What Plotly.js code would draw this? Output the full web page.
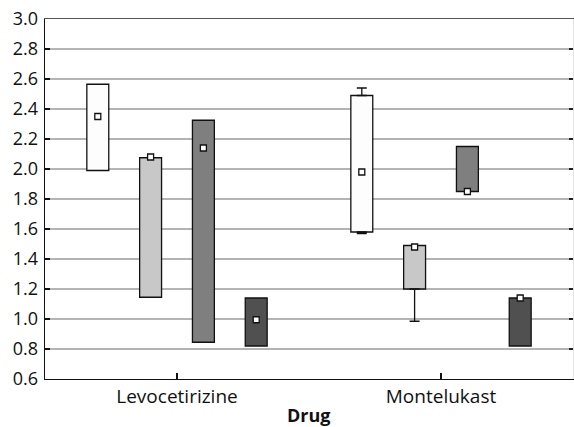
<!DOCTYPE html>
<html>
<head>
<meta charset="utf-8">
<script src="https://cdn.plot.ly/plotly-3.0.1.min.js"></script>
<style>html,body{margin:0;padding:0;background:#fff;}#chart{width:574px;height:427px;}</style>
</head>
<body>
<div id="chart"></div>
<script>
// Categories
const drugs = ['Levocetirizine', 'Montelukast'];
const drugIndex = [0, 1];
const xTitle = 'Drug';

// Four series per drug (lower quartile, upper quartile, median, whisker ends)
const s1_q1 = [1.99, 1.58];
const s1_q3 = [2.565, 2.49];
const s1_med = [2.35, 1.98];
const s1_low = [null, 1.57];
const s1_up = [null, 2.54];

const s2_q1 = [1.145, 1.20];
const s2_q3 = [2.075, 1.49];
const s2_med = [2.08, 1.48];
const s2_low = [null, 0.985];
const s2_up = [null, null];

const s3_q1 = [0.845, 1.85];
const s3_q3 = [2.325, 2.15];
const s3_med = [2.14, 1.85];
const s3_low = [null, null];
const s3_up = [null, null];

const s4_q1 = [0.82, 0.82];
const s4_q3 = [1.14, 1.14];
const s4_med = [0.995, 1.14];
const s4_low = [null, null];
const s4_up = [null, null];

const yTicks = [0.6, 0.8, 1.0, 1.2, 1.4, 1.6, 1.8, 2.0, 2.2, 2.4, 2.6, 2.8, 3.0];

const series = [
  {q1: s1_q1, q3: s1_q3, med: s1_med, low: s1_low, up: s1_up, color: '#fdfdfd', off: -0.3},
  {q1: s2_q1, q3: s2_q3, med: s2_med, low: s2_low, up: s2_up, color: '#c8c8c8', off: -0.1},
  {q1: s3_q1, q3: s3_q3, med: s3_med, low: s3_low, up: s3_up, color: '#7f7f7f', off: 0.1},
  {q1: s4_q1, q3: s4_q3, med: s4_med, low: s4_low, up: s4_up, color: '#505050', off: 0.3}
];
const boxW = 0.083;

const traces = [];
series.forEach(s => {
  const xs = drugIndex.map(i => i + s.off);
  traces.push({
    type: 'bar', x: drugIndex, base: s.q1,
    y: s.q3.map((v, i) => v - s.q1[i]),
    width: boxW, offset: s.off - boxW / 2,
    marker: {color: s.color, line: {color: '#111', width: 1.3}},
    hoverinfo: 'skip', showlegend: false
  });
  // upper whiskers
  traces.push({
    type: 'scatter', mode: 'markers', x: xs,
    y: s.up.map((u, i) => u == null ? null : s.q3[i]),
    marker: {size: 1, opacity: 0},
    error_y: {type: 'data', symmetric: false,
      array: s.up.map((u, i) => u == null ? 0 : u - s.q3[i]),
      arrayminus: s.up.map(() => 0), color: '#111', thickness: 1.3, width: 5},
    hoverinfo: 'skip', showlegend: false
  });
  // lower whiskers
  traces.push({
    type: 'scatter', mode: 'markers', x: xs,
    y: s.low.map((l, i) => l == null ? null : s.q1[i]),
    marker: {size: 1, opacity: 0},
    error_y: {type: 'data', symmetric: false,
      array: s.low.map(() => 0),
      arrayminus: s.low.map((l, i) => l == null ? 0 : s.q1[i] - l), color: '#111', thickness: 1.3, width: 5},
    hoverinfo: 'skip', showlegend: false
  });
});
series.forEach(s => {
  traces.push({
    type: 'scatter', mode: 'markers',
    x: drugIndex.map(i => i + s.off), y: s.med,
    marker: {symbol: 'square', size: 6, color: '#fff', line: {color: '#111', width: 1.3}},
    hoverinfo: 'skip', showlegend: false
  });
});
// carrier for the frame axes
traces.push({type: 'scatter', x: [], y: [], xaxis: 'x2', yaxis: 'y2', showlegend: false});

const fam = 'Open Sans, Noto Sans, sans-serif';
const layout = {
  width: 574, height: 427,
  margin: {l: 45, r: 1, t: 19, b: 48},
  paper_bgcolor: '#fff', plot_bgcolor: '#fff',
  barmode: 'overlay',
  font: {family: fam, size: 18, color: '#111'},
  showlegend: false,
  xaxis: {
    range: [-0.5, 1.5], tickvals: drugIndex, ticktext: drugs,
    ticks: 'inside', ticklen: 6, tickcolor: '#111', tickwidth: 1.3,
    showline: true, linecolor: '#111', linewidth: 1.3,
    showgrid: false, zeroline: false,
    tickfont: {family: fam, size: 19, color: '#111'}
  },
  xaxis2: {
    overlaying: 'x', side: 'top', range: [-0.5, 1.5],
    showline: true, linecolor: '#555', linewidth: 1.5,
    ticks: '', showticklabels: false, showgrid: false, zeroline: false
  },
  yaxis: {
    range: [0.6, 3.0], tickvals: yTicks, tickformat: '.1f',
    ticks: 'inside', ticklen: 5, tickcolor: '#111', tickwidth: 1.3,
    showline: true, linecolor: '#111', linewidth: 1.3,
    gridcolor: '#b4b4b4', gridwidth: 1.3, zeroline: false,
    tickfont: {family: fam, size: 18, color: '#111'},
    ticklabelstandoff: 2
  },
  yaxis2: {
    overlaying: 'y', side: 'right', range: [0.6, 3.0], tickvals: yTicks,
    ticks: 'inside', ticklen: 4, tickcolor: '#222', tickwidth: 1.3,
    showticklabels: false, showgrid: false, zeroline: false,
    showline: true, linecolor: '#e4e4e4', linewidth: 1
  },
  annotations: [{
    text: '<b>' + xTitle + '</b>', xref: 'paper', yref: 'paper', x: 0.5, y: 0,
    xanchor: 'center', yanchor: 'top', yshift: -22, showarrow: false,
    font: {family: fam, size: 18, color: '#111'}
  }]
};
Plotly.newPlot('chart', traces, layout, {staticPlot: true, displayModeBar: false});
</script>
</body>
</html>
